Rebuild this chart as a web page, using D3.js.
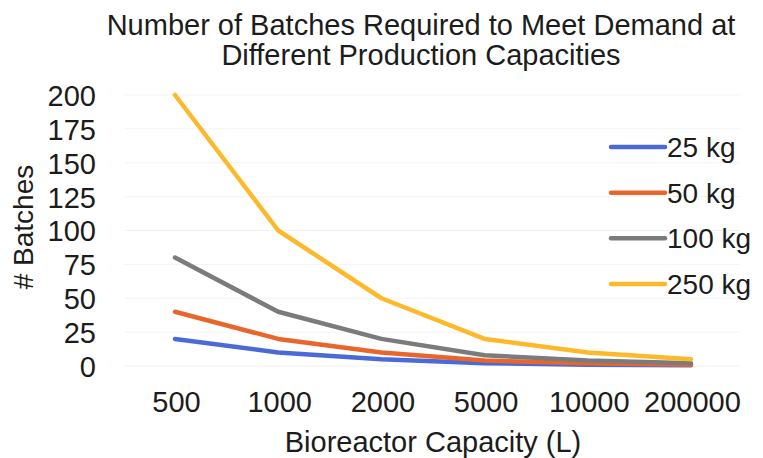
<!DOCTYPE html>
<html>
<head>
<meta charset="utf-8">
<script src="https://cdn.jsdelivr.net/npm/d3@7"></script>
<style>
  html, body { margin: 0; padding: 0; background: #fff; }
  text { font-family: "Liberation Sans", Arial, sans-serif; fill: #1c1c1c; }
</style>
</head>
<body>
<svg id="chart" width="763" height="458"></svg>
<script>
const categories = ["500", "1000", "2000", "5000", "10000", "200000"];
const seriesNames = ["25 kg", "50 kg", "100 kg", "250 kg"];
const values25 = [20, 10, 5, 2, 1, 0.5];
const values50 = [40, 20, 10, 4, 2, 1];
const values100 = [80, 40, 20, 8, 4, 2];
const values250 = [200, 100, 50, 20, 10, 5];
const yTicks = [0, 25, 50, 75, 100, 125, 150, 175, 200];
const colors = ["#4a6ad8", "#e8662c", "#7b7b7b", "#fdb92c"];
const titleLines = ["Number of Batches Required to Meet Demand at", "Different Production Capacities"];
const xTitle = "Bioreactor Capacity (L)";
const yTitle = "# Batches";

const series = [values25, values50, values100, values250].map((v, i) => ({ name: seriesNames[i], values: v, color: colors[i] }));

const svg = d3.select("#chart");
const x = d3.scalePoint().domain(categories).range([175, 691]);
const y = d3.scaleLinear().domain([0, 200]).range([366, 95]);

// faint gridlines
svg.append("g").selectAll("line").data(yTicks).join("line")
  .attr("x1", 125).attr("x2", 740)
  .attr("y1", d => y(d)).attr("y2", d => y(d))
  .attr("stroke", "#f3f3f3").attr("stroke-width", 1);

// y axis
const yAxis = d3.axisLeft(y).tickValues(yTicks).tickSize(0).tickPadding(0);
const gy = svg.append("g").attr("transform", "translate(96,0)").call(yAxis);
gy.select(".domain").remove();
gy.selectAll("text").style("font-size", "29px").attr("dy", "0.36em").attr("fill", "#1c1c1c")
  .style("font-family", "'Liberation Sans', Arial, sans-serif");

// x axis
const xAxis = d3.axisBottom(x).tickSize(0).tickPadding(0);
const gx = svg.append("g").attr("transform", "translate(1,412)").call(xAxis);
gx.select(".domain").remove();
gx.selectAll("text").style("font-size", "29px").attr("dy", "0").attr("fill", "#1c1c1c")
  .style("font-family", "'Liberation Sans', Arial, sans-serif");

// lines
const line = d3.line().x((d, i) => x(categories[i])).y(d => y(d));
svg.append("g").selectAll("path").data(series).join("path")
  .attr("d", d => line(d.values))
  .attr("fill", "none")
  .attr("stroke", d => d.color)
  .attr("stroke-width", 4.5)
  .attr("stroke-linejoin", "round")
  .attr("stroke-linecap", "round");

// legend
const legY = d3.scalePoint().domain(seriesNames).range([147, 284]);
const leg = svg.append("g").selectAll("g").data(series).join("g")
  .attr("transform", d => `translate(0,${legY(d.name)})`);
leg.append("line").attr("x1", 611).attr("x2", 665).attr("y1", 0).attr("y2", 0)
  .attr("stroke", d => d.color).attr("stroke-width", 4.5).attr("stroke-linecap", "round");
leg.append("text").attr("x", 667).attr("dy", "0.36em").style("font-size", "28px").text(d => d.name);

// titles
svg.append("g").selectAll("text").data(titleLines).join("text")
  .attr("x", 421).attr("y", (d, i) => 35 + i * 30)
  .attr("text-anchor", "middle").style("font-size", "29px").text(d => d);

svg.append("text").attr("x", 433).attr("y", 452).attr("text-anchor", "middle")
  .style("font-size", "29px").text(xTitle);

svg.append("text").attr("transform", "translate(33,227) rotate(-90)")
  .attr("text-anchor", "middle").style("font-size", "28px").text(yTitle);
</script>
</body>
</html>
